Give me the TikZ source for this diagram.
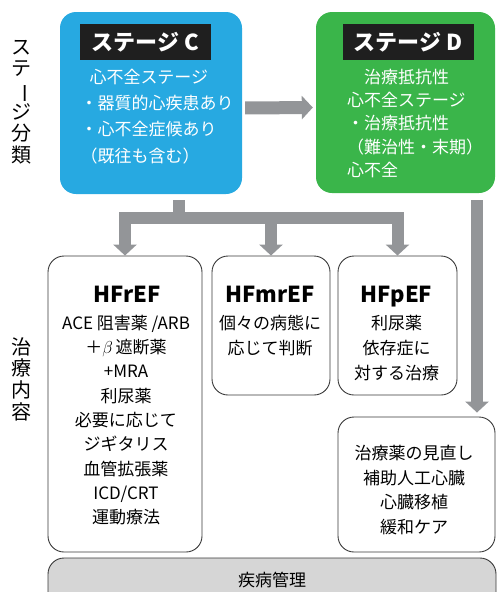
\documentclass[tikz,border=0pt]{standalone}
\usepackage{fontspec}
\setmainfont{Noto Sans CJK JP}
\usetikzlibrary{arrows.meta}
\definecolor{stagec}{HTML}{27A9E1}
\definecolor{staged}{HTML}{3AB54A}
\definecolor{arrowgray}{HTML}{939598}
\definecolor{edgegray}{HTML}{3A3A3A}
\definecolor{bargray}{HTML}{D6D6D6}
\tikzset{
  stagebox/.style={rounded corners=16pt, inner sep=0pt},
  tagbox/.style={fill=black!88, text=white, inner sep=0pt, minimum width=131pt, minimum height=36pt, font=\fontsize{22}{24}\selectfont\bfseries},
  carebox/.style={draw=edgegray, line width=0.9pt, rounded corners=16pt, fill=white, inner sep=0pt},
  caretext/.style={align=center, inner sep=0pt, font=\fontsize{17}{24.3}\selectfont},
  caretitle/.style={anchor=base, inner sep=0pt, font=\fontsize{22}{24}\selectfont\bfseries},
  stagetext/.style={align=left, inner sep=0pt, text=white, font=\fontsize{17}{26.3}\selectfont},
  sidelabel/.style={align=center, inner sep=0pt, font=\fontsize{20}{21.7}\selectfont},
  grayline/.style={draw=arrowgray, line width=12pt},
  grayarrow/.style={grayline, -{Triangle[width=23pt,length=11pt]}}
}

\begin{document}
\begin{tikzpicture}[x=1pt, y=-1pt]
\useasboundingbox (0,0) rectangle (496,592);
% side labels
\draw (22,102) node [sidelabel] (stagelabel) {ス\\テ\\\rotatebox[origin=c]{-90}{ー}\\ジ\\分\\類};
\draw (22,379) node [sidelabel] (carelabel) {治\\療\\内\\容};
% stages
\draw (151,103) node [stagebox, fill=stagec, minimum width=182pt, minimum height=182pt] (C) {};
\draw (405.5,102.5) node [stagebox, fill=staged, minimum width=179pt, minimum height=181pt] (D) {};
\draw (145.5,42) node [tagbox] (tagC) {ステージ C};
\draw (408,42) node [tagbox] (tagD) {ステージ D};
\draw (157,116.5) node [stagetext] (textC) {\hspace*{9pt}心不全ステージ\\・器質的心疾患あり\\・心不全症候あり\\（既往も含む）};
\draw (415,123.5) node [stagetext, font=\fontsize{17}{23.25}\selectfont] (textD) {　治療抵抗性\\心不全ステージ\\・治療抵抗性\\（難治性・末期）\\心不全};
% treatment boxes
\draw (125,404) node [carebox, minimum width=154pt, minimum height=296pt] (rf) {};
\draw (271,325.5) node [carebox, minimum width=118pt, minimum height=139pt] (mf) {};
\draw (397.5,325.5) node [carebox, minimum width=119pt, minimum height=139pt] (pf) {};
\draw (416.5,484.5) node [carebox, minimum width=157pt, minimum height=135pt] (tr) {};
\draw (272,584) node [carebox, fill=bargray, minimum width=448pt, minimum height=52pt] (bar) {};
\draw (127,302.5) node [caretitle] (rftitle) {HFrEF};
\draw (270,302.5) node [caretitle] (mftitle) {HFmrEF};
\draw (396.5,302.5) node [caretitle] (pftitle) {HFpEF};
\draw (126,420) node [caretext] (rftext) {ACE 阻害薬 /ARB\\＋$\beta$\,遮断薬\\+MRA\\利尿薬\\必要に応じて\\ジギタリス\\血管拡張薬\\ICD/CRT\\運動療法};
\draw (270,335.5) node [caretext, font=\fontsize{17}{25}\selectfont] (mftext) {個々の病態に\\応じて判断};
\draw (396.5,348) node [caretext, font=\fontsize{17}{25}\selectfont] (pftext) {利尿薬\\依存症に\\対する治療};
\draw (414,490) node [caretext, font=\fontsize{17}{24.7}\selectfont] (trtext) {治療薬の見直し\\補助人工心臓\\心臓移植\\緩和ケア};
\draw (272,580) node [caretext] (bartext) {疾病管理};
% arrows
\draw [grayarrow, line width=13pt, shorten <=3pt, shorten >=3pt] ([yshift=-5pt]C.east) -- ([yshift=-5pt]D.west);
\coordinate (fork) at (179,218);
\coordinate (dcol) at (477,200);
\draw [grayline] ([xshift=28pt,yshift=-6pt]C.south) -- (fork);
\draw [grayarrow] (fork) -| (rf.north);
\draw [grayarrow] (fork) -| (mf.north);
\draw [grayarrow] (fork) -| (pf.north);
\draw [grayarrow, shorten >=4pt] (dcol) -- (tr.north -| dcol);
\end{tikzpicture}
\end{document}
